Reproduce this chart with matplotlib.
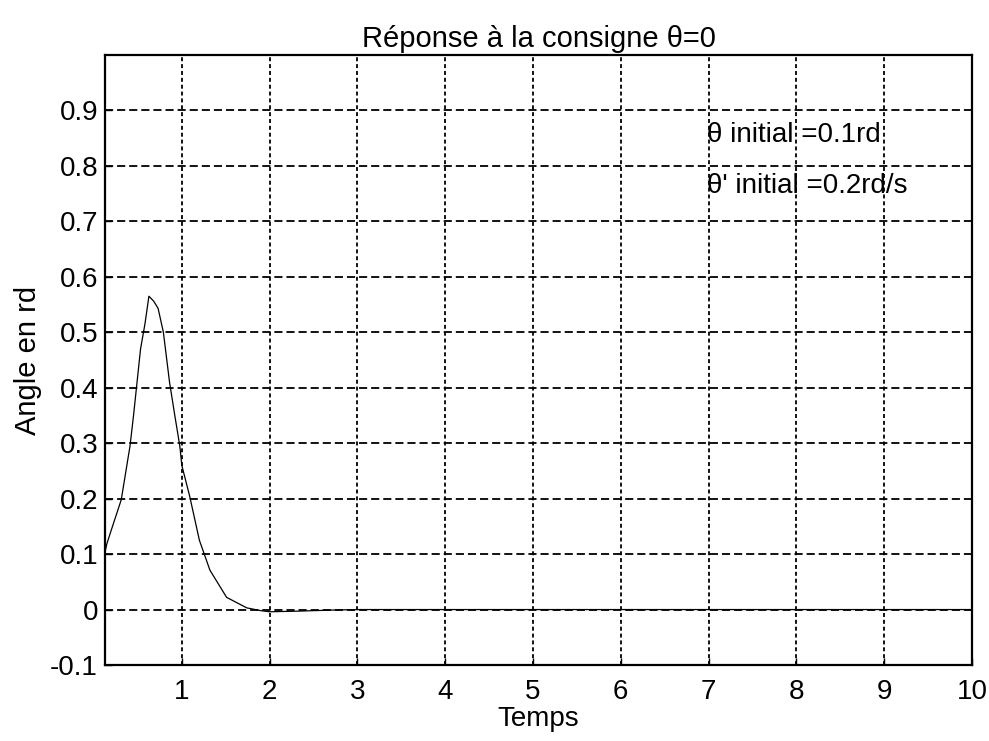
import matplotlib
matplotlib.use("Agg")
import matplotlib.pyplot as plt

plt.rcParams['font.family'] = ['Liberation Sans', 'DejaVu Sans']

# data
t = [0.125, 0.145, 0.2, 0.31, 0.41, 0.45, 0.49, 0.53, 0.58, 0.625,
     0.68, 0.73, 0.79, 0.86, 0.92, 0.977, 1.0, 1.09, 1.2, 1.32, 1.51,
     1.74, 1.9, 2.0, 2.3, 2.7, 3.0, 10.0]
theta = [0.103, 0.118, 0.145, 0.198, 0.295, 0.35, 0.41, 0.47, 0.515, 0.565,
         0.556, 0.543, 0.50, 0.41, 0.35, 0.295, 0.26, 0.204, 0.125, 0.071, 0.022,
         0.003, -0.002, -0.004, -0.003, -0.001, 0.0, 0.0]

xticks = [1, 2, 3, 4, 5, 6, 7, 8, 9, 10]
yticks = [-0.1, 0, 0.1, 0.2, 0.3, 0.4, 0.5, 0.6, 0.7, 0.8, 0.9]
ytick_labels = ['-0.1', '0', '0.1', '0.2', '0.3', '0.4', '0.5', '0.6', '0.7', '0.8', '0.9']

title = 'Réponse à la consigne θ=0'
xlabel = 'Temps'
ylabel = 'Angle en rd'
note1 = 'θ initial =0.1rd'
note2 = "θ' initial =0.2rd/s"

fig = plt.figure(figsize=(9.89, 7.41), dpi=100)
ax = fig.add_axes([105/989, 1-665/741, (972-105)/989, (665-55)/741])

ax.plot(t, theta, color='black', lw=0.9)

ax.set_xlim(0.125, 10)
ax.set_ylim(-0.1, 1.0)
ax.set_xticks(xticks)
ax.set_yticks(yticks)
ax.set_yticklabels(ytick_labels)

for x in xticks[:-1]:
    ax.axvline(x, color='black', lw=1.3, linestyle=(0, (2.2, 1.6)), zorder=0)
for y in yticks[1:]:
    ax.axhline(y, color='black', lw=1.3, linestyle=(0, (4.5, 2.2)), zorder=0)

ax.tick_params(direction='in', length=5, width=1, labelsize=20, pad=5)
ax.tick_params(axis='x', pad=10)
for s in ax.spines.values():
    s.set_linewidth(1.6)

ax.set_title(title, fontsize=21, pad=6)
ax.set_xlabel(xlabel, fontsize=20, labelpad=1)
ax.set_ylabel(ylabel, fontsize=21, labelpad=6)

ax.text(6.98, 0.856, note1, fontsize=20, va='center', ha='left')
ax.text(6.98, 0.764, note2, fontsize=20, va='center', ha='left')

fig.savefig('out.png', dpi=100)
